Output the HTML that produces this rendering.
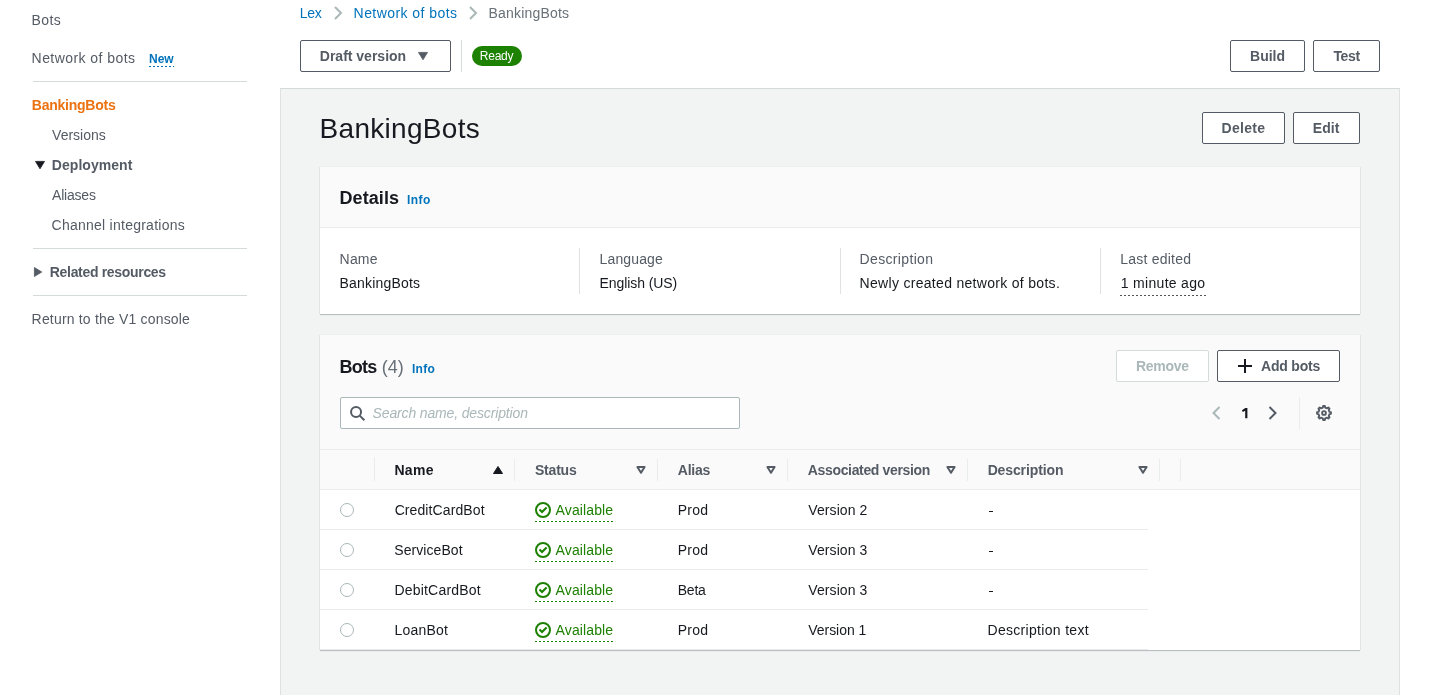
<!DOCTYPE html>
<html>
<head>
<meta charset="utf-8">
<title>BankingBots</title>
<style>
*{box-sizing:border-box;margin:0;padding:0}
html,body{width:1440px;height:695px;overflow:hidden;background:#fff}
body{font-family:"Liberation Sans",sans-serif;font-size:14px;color:#16191f;position:relative}
.t{position:absolute;white-space:nowrap;line-height:20px;height:20px}
.b{font-weight:bold}
.g{color:#545b64}
.l{color:#0073bb}
.hr{position:absolute;height:1px;background:#d5dbdb;left:33px;width:214px}
.btn{position:absolute;height:32px;border:1px solid #545b64;border-radius:2px;background:#fff;color:#545b64;font-weight:bold;font-size:14px;line-height:30px;text-align:center;white-space:nowrap}
.card{position:absolute;left:320px;width:1040px;background:#fff;box-shadow:0 1px 0 0 rgba(0,28,36,.225),-1px 0 0 0 rgba(0,28,36,.066),1px 0 0 0 rgba(0,28,36,.066),0 2px 0 0 rgba(0,28,36,.025),0 -1px 0 0 rgba(0,28,36,.02)}
.vsep{position:absolute;width:1px;background:#eaeded}
.hline{position:absolute;height:1px;background:#eaeded}
svg{position:absolute;overflow:visible}
.radio{position:absolute;left:340px;width:14px;height:14px;border:1px solid #aab7b8;border-radius:50%;background:#fff}
.dot{position:absolute;height:1px;background:repeating-linear-gradient(90deg,#1d8102 0,#1d8102 1.8px,transparent 1.8px,transparent 4px)}
.av{color:#1d8102}
</style>
</head>
<body><div style="position:absolute;left:0;top:0;width:1440px;height:695px;will-change:transform">

<!-- ============ SIDE NAV ============ -->
<div class="t g" id="sb1" style="left:31.60px;top:10px;letter-spacing:0.356px">Bots</div>
<div class="t g" id="nob" style="left:31.60px;top:48px;letter-spacing:0.437px">Network of bots</div>
<div class="t l b" id="new" style="left:149px;top:49px;font-size:12px">New</div>
<div style="position:absolute;left:149px;top:66px;width:25px;height:1px;background:repeating-linear-gradient(90deg,#0073bb 0,#0073bb 1.8px,transparent 1.8px,transparent 4px)"></div>
<div class="hr" style="top:81px"></div>
<div class="t b" id="sbb" style="left:31.83px;top:95px;color:#ec7211;letter-spacing:-0.245px">BankingBots</div>
<div class="t g" id="ver" style="left:52.11px;top:125px;letter-spacing:-0.017px">Versions</div>
<svg style="left:35px;top:161px" width="10" height="8" viewBox="0 0 10 8"><path d="M0.500 0.400h9L5 7.800z" fill="#16191f" stroke="#16191f" stroke-width="0.800" stroke-linejoin="round"/></svg>
<div class="t g b" id="dep" style="left:51.81px;top:155px;letter-spacing:0.052px">Deployment</div>
<div class="t g" id="ali" style="left:52.11px;top:185px;letter-spacing:-0.218px">Aliases</div>
<div class="t g" id="chi" style="left:51.57px;top:215px;letter-spacing:0.250px">Channel integrations</div>
<div class="hr" style="top:248px"></div>
<svg style="left:34px;top:267px" width="8" height="10" viewBox="0 0 8 10"><path d="M0.400 0.500v9L7.800 5z" fill="#545b64" stroke="#545b64" stroke-width="0.800" stroke-linejoin="round"/></svg>
<div class="t g b" id="rel" style="left:49.81px;top:262px;letter-spacing:-0.318px">Related resources</div>
<div class="hr" style="top:295px"></div>
<div class="t g" id="ret" style="left:31.60px;top:309px;letter-spacing:0.182px">Return to the V1 console</div>

<!-- ============ BREADCRUMB ============ -->
<div class="t l" id="bc1" style="left:299.68px;top:3px;letter-spacing:-0.221px">Lex</div>
<svg style="left:334px;top:6px" width="9" height="14" viewBox="0 0 9 14"><path d="M1 1L7 7L1 13" fill="none" stroke="#aab7b8" stroke-width="2"/></svg>
<div class="t l" id="bc2" style="left:353.58px;top:3px;letter-spacing:0.439px">Network of bots</div>
<svg style="left:469px;top:6px" width="9" height="14" viewBox="0 0 9 14"><path d="M1 1L7 7L1 13" fill="none" stroke="#aab7b8" stroke-width="2"/></svg>
<div class="t" id="bc3" style="left:488.44px;top:3px;color:#687078;letter-spacing:0.205px">BankingBots</div>

<!-- ============ TOOLBAR ============ -->
<div class="btn" style="left:300px;top:40px;width:151px"></div>
<div class="t b g" id="dv" style="left:319.81px;top:46px;letter-spacing:-0.003px">Draft version</div>
<svg style="left:418px;top:52px" width="10" height="8" viewBox="0 0 10 8"><path d="M0.500 0.400h9L5 7.800z" fill="#545b64" stroke="#545b64" stroke-width="0.800" stroke-linejoin="round"/></svg>
<div class="vsep" style="left:461px;top:40px;height:32px;background:#d5dbdb"></div>
<div style="position:absolute;left:472px;top:46px;width:50px;height:20px;border-radius:10px;background:#1d8102"></div>
<div class="t" id="rdy" style="left:479.8px;top:46px;font-size:12px;color:#fff;letter-spacing:-0.25px">Ready</div>
<div class="btn" style="left:1230px;top:40px;width:75px"></div>
<div class="t b g" id="bb" style="left:1250.08px;top:46px;letter-spacing:-0.024px">Build</div>
<div class="btn" style="left:1313px;top:40px;width:67px"></div>
<div class="t b g" id="bt" style="left:1333.43px;top:46px;letter-spacing:-0.335px">Test</div>

<!-- ============ GRAY PANEL ============ -->
<div style="position:absolute;left:280px;top:88px;width:1120px;height:620px;background:#f2f3f3;border:1px solid #dde1e2;border-top-color:#d5dbdb"></div>
<div class="t" id="h1" style="left:319.62px;top:111px;font-size:28px;line-height:36px;height:36px;letter-spacing:0.294px">BankingBots</div>
<div class="btn" style="left:1202px;top:112px;width:83px"></div>
<div class="t b g" id="bd" style="left:1221.57px;top:118px;letter-spacing:0.291px">Delete</div>
<div class="btn" style="left:1293px;top:112px;width:67px"></div>
<div class="t b g" id="be" style="left:1312.76px;top:118px;letter-spacing:0.081px">Edit</div>

<!-- ============ DETAILS CARD ============ -->
<div class="card" style="top:167px;height:147px">
  <div style="position:absolute;left:0;top:0;width:1040px;height:61px;background:#fafafa;border-bottom:1px solid #eaeded"></div>
</div>
<div class="t b" id="det" style="left:339.55px;top:187px;font-size:18px;line-height:22px;height:22px;letter-spacing:0.067px">Details</div>
<div class="t l b" id="inf1" style="left:406.92px;top:190px;font-size:12px;letter-spacing:0.445px">Info</div>

<div class="t g" id="l1" style="left:339.60px;top:249px;letter-spacing:0.178px">Name</div>
<div class="t" id="v1" style="left:339.57px;top:273px;letter-spacing:0.189px">BankingBots</div>
<div class="vsep" style="left:579px;top:248px;height:46px;background:#dfe1e2"></div>
<div class="t g" id="l2" style="left:599.60px;top:249px;letter-spacing:0.129px">Language</div>
<div class="t" id="v2" style="left:599.57px;top:273px;letter-spacing:-0.081px">English (US)</div>
<div class="vsep" style="left:840px;top:248px;height:46px;background:#dfe1e2"></div>
<div class="t g" id="l3" style="left:859.60px;top:249px;letter-spacing:0.341px">Description</div>
<div class="t" id="v3" style="left:859.57px;top:273px;letter-spacing:0.304px">Newly created network of bots.</div>
<div class="vsep" style="left:1100px;top:248px;height:46px;background:#dfe1e2"></div>
<div class="t g" id="l4" style="left:1120.25px;top:249px;letter-spacing:0.226px">Last edited</div>
<div class="t" id="v4" style="left:1120.81px;top:273px;letter-spacing:0.302px">1 minute ago</div>
<div style="position:absolute;left:1120px;top:295px;width:86px;height:1px;background:repeating-linear-gradient(90deg,rgba(22,25,31,.75) 0,rgba(22,25,31,.75) 1.8px,transparent 1.8px,transparent 4px)"></div>

<!-- ============ BOTS CARD ============ -->
<div class="card" style="top:335px;height:315px">
  <div style="position:absolute;left:0;top:0;width:1040px;height:155px;background:#fafafa"></div>
</div>
<div class="t b" id="bots" style="left:339.55px;top:356px;font-size:18px;line-height:22px;height:22px;letter-spacing:-0.754px">Bots</div>
<div class="t" id="cnt" style="left:381.81px;top:356px;font-size:18px;line-height:22px;height:22px;color:#687078;letter-spacing:-0.063px">(4)</div>
<div class="t l b" id="inf2" style="left:411.92px;top:359px;font-size:12px;letter-spacing:0.318px">Info</div>
<div class="btn" style="left:1116px;top:350px;width:93px;border-color:#d5dbdb"></div>
<div class="t b" id="br" style="left:1135.91px;top:356px;color:#aab7b8;letter-spacing:-0.284px">Remove</div>
<div class="btn" style="left:1217px;top:350px;width:123px"></div>
<div class="t b g" id="ba" style="left:1261.11px;top:356px;letter-spacing:-0.220px">Add bots</div>
<svg style="left:1238px;top:359px" width="14" height="14" viewBox="0 0 14 14"><path d="M7 0v14M0 7h14" stroke="#16191f" stroke-width="2" fill="none"/></svg>

<!-- search -->
<div style="position:absolute;left:340px;top:397px;width:400px;height:32px;border:1px solid #aab7b8;border-radius:2px;background:#fff"></div>
<svg style="left:350px;top:406px" width="15" height="15" viewBox="0 0 15 15"><circle cx="6.050" cy="6" r="5" fill="none" stroke="#545b64" stroke-width="2"/><path d="M9.700 9.600L14.400 14.300" stroke="#545b64" stroke-width="2" fill="none"/></svg>
<div class="t" id="ph" style="left:372.60px;top:403px;font-style:italic;color:#aab7b8;letter-spacing:-0.147px">Search name, description</div>

<!-- pagination -->
<svg style="left:1212px;top:406px" width="9" height="14" viewBox="0 0 9 14"><path d="M7.500 1L1.500 7L7.500 13" fill="none" stroke="#aab7b8" stroke-width="2"/></svg>
<svg style="left:1241.8px;top:407.8px" width="6" height="11" viewBox="0 0 6 11"><path d="M3.300 0H5.400V10.250H3.200V2.700L0.700 3.900L0 2.300z" fill="#16191f"/></svg>
<svg style="left:1268.3px;top:406px" width="9" height="14" viewBox="0 0 9 14"><path d="M1.500 1L7.500 7L1.500 13" fill="none" stroke="#545b64" stroke-width="2"/></svg>
<div class="vsep" style="left:1299px;top:397px;height:32px"></div>
<svg style="left:1316px;top:405px" width="16" height="16" viewBox="0 0 16 16"><g fill="none" stroke="#545b64" stroke-width="1.900" stroke-linejoin="round"><path d="M6.84 2.52L7.15 1.05L8.85 1.05L9.16 2.52L11.05 3.30L12.31 2.48L13.52 3.69L12.70 4.95L13.48 6.84L14.95 7.15L14.95 8.85L13.48 9.16L12.70 11.05L13.52 12.31L12.31 13.52L11.05 12.70L9.16 13.48L8.85 14.95L7.15 14.95L6.84 13.48L4.95 12.70L3.69 13.52L2.48 12.31L3.30 11.05L2.52 9.16L1.05 8.85L1.05 7.15L2.52 6.84L3.30 4.95L2.48 3.69L3.69 2.48L4.95 3.30z"/><circle cx="8" cy="8" r="1.900"/></g></svg>

<!-- table header -->
<div class="hline" style="left:320px;top:449px;width:1040px"></div>
<div class="hline" style="left:320px;top:489px;width:1040px"></div>
<div class="vsep" style="left:374px;top:457px;height:24px"></div>
<div class="vsep" style="left:514px;top:459px;height:22px"></div>
<div class="vsep" style="left:657px;top:459px;height:22px"></div>
<div class="vsep" style="left:787px;top:459px;height:22px"></div>
<div class="vsep" style="left:967px;top:459px;height:22px"></div>
<div class="vsep" style="left:1159px;top:459px;height:22px"></div>
<div class="vsep" style="left:1180px;top:459px;height:22px"></div>
<div class="t b" id="th1" style="left:394.42px;top:460px;letter-spacing:0.308px">Name</div>
<svg style="left:493px;top:466px" width="10" height="8" viewBox="0 0 10 8"><path d="M0.500 7.500h9L5 0.500z" fill="#16191f" stroke="#16191f" stroke-width="1" stroke-linejoin="round"/></svg>
<div class="t b g" id="th2" style="left:534.98px;top:460px;letter-spacing:-0.199px">Status</div>
<svg style="left:636px;top:466px" width="10" height="8" viewBox="0 0 10 8"><path d="M1.400 1h7.200L5 6.800z" fill="none" stroke="#545b64" stroke-width="2" stroke-linejoin="round"/></svg>
<div class="t b g" id="th3" style="left:677.82px;top:460px;letter-spacing:-0.263px">Alias</div>
<svg style="left:766px;top:466px" width="10" height="8" viewBox="0 0 10 8"><path d="M1.400 1h7.200L5 6.800z" fill="none" stroke="#545b64" stroke-width="2" stroke-linejoin="round"/></svg>
<div class="t b g" id="th4" style="left:807.86px;top:460px;letter-spacing:-0.351px">Associated version</div>
<svg style="left:946px;top:466px" width="10" height="8" viewBox="0 0 10 8"><path d="M1.400 1h7.200L5 6.800z" fill="none" stroke="#545b64" stroke-width="2" stroke-linejoin="round"/></svg>
<div class="t b g" id="th5" style="left:987.64px;top:460px;letter-spacing:-0.119px">Description</div>
<svg style="left:1138px;top:466px" width="10" height="8" viewBox="0 0 10 8"><path d="M1.400 1h7.200L5 6.800z" fill="none" stroke="#545b64" stroke-width="2" stroke-linejoin="round"/></svg>

<!-- rows -->
<div class="hline" style="left:320px;top:529px;width:828px"></div>
<div class="hline" style="left:320px;top:569px;width:828px"></div>
<div class="hline" style="left:320px;top:609px;width:828px"></div>
<div class="hline" style="left:320px;top:649px;width:828px"></div>

<div class="radio" style="top:503px"></div>
<div class="t" id="r0n" style="left:394.64px;top:500px;letter-spacing:0.101px">CreditCardBot</div>
<svg style="left:535px;top:502px" width="16" height="16" viewBox="0 0 16 16"><circle cx="8" cy="8" r="7" fill="none" stroke="#1d8102" stroke-width="2"/><path d="M4.500 7.500L7.050 10.050L11.600 5.500" fill="none" stroke="#1d8102" stroke-width="2.100"/></svg>
<div class="t av" id="r0s" style="left:555.56px;top:500px;letter-spacing:0.129px">Available</div>
<div class="dot" style="left:535px;top:521px;width:78px"></div>
<div class="t" id="r0a" style="left:677.70px;top:500px;letter-spacing:0.288px">Prod</div>
<div class="t" id="r0v" style="left:808.34px;top:500px;letter-spacing:0.083px">Version 2</div>
<div style="position:absolute;left:988.6px;top:510.7px;width:4.5px;height:1.3px;background:#16191f"></div>
<div class="radio" style="top:543px"></div>
<div class="t" id="r1n" style="left:394.33px;top:540px;letter-spacing:0.057px">ServiceBot</div>
<svg style="left:535px;top:542px" width="16" height="16" viewBox="0 0 16 16"><circle cx="8" cy="8" r="7" fill="none" stroke="#1d8102" stroke-width="2"/><path d="M4.500 7.500L7.050 10.050L11.600 5.500" fill="none" stroke="#1d8102" stroke-width="2.100"/></svg>
<div class="t av" id="r1s" style="left:555.56px;top:540px;letter-spacing:0.129px">Available</div>
<div class="dot" style="left:535px;top:561px;width:78px"></div>
<div class="t" id="r1a" style="left:677.70px;top:540px;letter-spacing:0.288px">Prod</div>
<div class="t" id="r1v" style="left:808.34px;top:540px;letter-spacing:0.073px">Version 3</div>
<div style="position:absolute;left:988.6px;top:550.7px;width:4.5px;height:1.3px;background:#16191f"></div>
<div class="radio" style="top:583px"></div>
<div class="t" id="r2n" style="left:394.38px;top:580px;letter-spacing:0.207px">DebitCardBot</div>
<svg style="left:535px;top:582px" width="16" height="16" viewBox="0 0 16 16"><circle cx="8" cy="8" r="7" fill="none" stroke="#1d8102" stroke-width="2"/><path d="M4.500 7.500L7.050 10.050L11.600 5.500" fill="none" stroke="#1d8102" stroke-width="2.100"/></svg>
<div class="t av" id="r2s" style="left:555.56px;top:580px;letter-spacing:0.129px">Available</div>
<div class="dot" style="left:535px;top:601px;width:78px"></div>
<div class="t" id="r2a" style="left:677.70px;top:580px;letter-spacing:-0.196px">Beta</div>
<div class="t" id="r2v" style="left:808.34px;top:580px;letter-spacing:0.073px">Version 3</div>
<div style="position:absolute;left:988.6px;top:590.7px;width:4.5px;height:1.3px;background:#16191f"></div>
<div class="radio" style="top:623px"></div>
<div class="t" id="r3n" style="left:394.38px;top:620px;letter-spacing:0.220px">LoanBot</div>
<svg style="left:535px;top:622px" width="16" height="16" viewBox="0 0 16 16"><circle cx="8" cy="8" r="7" fill="none" stroke="#1d8102" stroke-width="2"/><path d="M4.500 7.500L7.050 10.050L11.600 5.500" fill="none" stroke="#1d8102" stroke-width="2.100"/></svg>
<div class="t av" id="r3s" style="left:555.56px;top:620px;letter-spacing:0.129px">Available</div>
<div class="dot" style="left:535px;top:641px;width:78px"></div>
<div class="t" id="r3a" style="left:677.70px;top:620px;letter-spacing:0.288px">Prod</div>
<div class="t" id="r3v" style="left:808.34px;top:620px;letter-spacing:-0.060px">Version 1</div>
<div class="t" id="r3d" style="left:987.46px;top:620px;letter-spacing:0.313px">Description text</div>
</div></body>
</html>
